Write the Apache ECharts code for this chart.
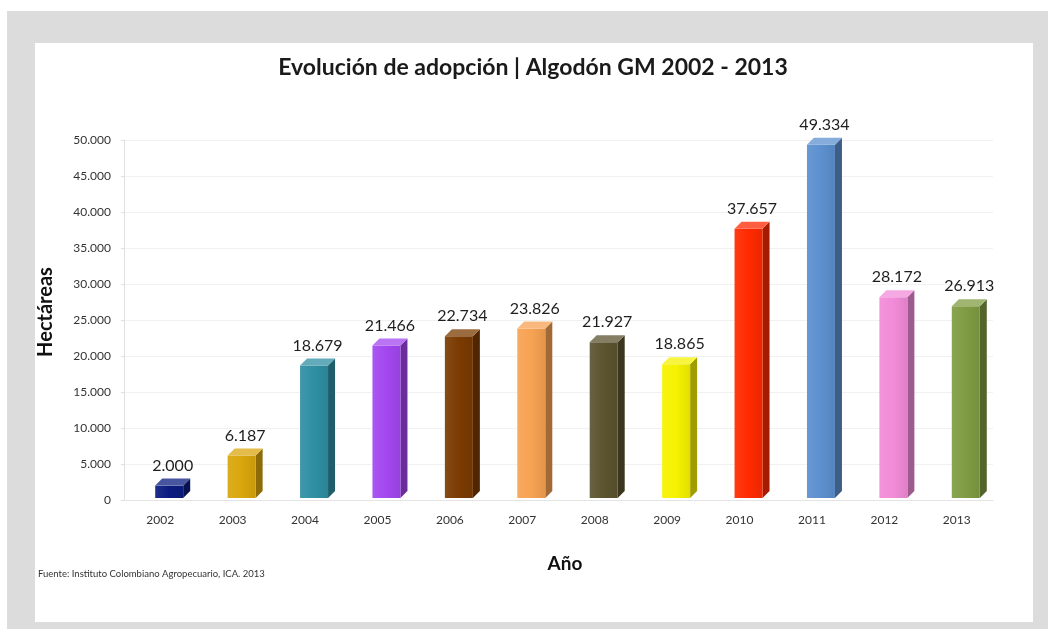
<!DOCTYPE html>
<html>
<head>
<meta charset="utf-8">
<script src="https://cdn.jsdelivr.net/npm/echarts@6/dist/echarts.min.js"></script>
<style>
  html, body { margin: 0; padding: 0; background: #ffffff; }
  #chart { width: 1048px; height: 629px; }
</style>
</head>
<body>
<div id="chart"></div>
<script>
// Cotton GM adoption in Colombia, hectares per year
const years = ['2002', '2003', '2004', '2005', '2006', '2007', '2008', '2009', '2010', '2011', '2012', '2013'];
const hectares = [2000, 6187, 18679, 21466, 22734, 23826, 21927, 18865, 37657, 49334, 28172, 26913];
const barColors = ['#0b1c80', '#d9a60c', '#2f8fa3', '#a347f0', '#7b3b02', '#f7a253',
                   '#5c5330', '#f6f200', '#ff2a00', '#5c90cf', '#f28bd8', '#7f9c42'];
const yTicks = [0, 5000, 10000, 15000, 20000, 25000, 30000, 35000, 40000, 45000, 50000];

const FONT = 'Lato, "Open Sans", sans-serif';

// thousands separated with a dot
function fmt(v) {
  return String(Math.round(v)).replace(/\B(?=(\d{3})+(?!\d))/g, '.');
}

function shade(hex, f) {
  const n = parseInt(hex.slice(1), 16);
  let r = (n >> 16) & 255, g = (n >> 8) & 255, b = n & 255;
  if (f < 0) { r *= 1 + f; g *= 1 + f; b *= 1 + f; }
  else { r += (255 - r) * f; g += (255 - g) * f; b += (255 - b) * f; }
  return 'rgb(' + Math.round(r) + ',' + Math.round(g) + ',' + Math.round(b) + ')';
}

// 3D box bar: front face, right side and top
function renderBox(params, api) {
  const i = api.value(0);
  const top = api.coord([i, api.value(1)]);
  const base = api.coord([i, 0]);
  const w = 28, d = 7, dy = 7;
  const x0 = top[0] - 5, x1 = x0 + w;
  const yt = top[1], yb = base[1] - 2;
  const col = barColors[i];
  return {
    type: 'group',
    children: [
      { type: 'polygon', shape: { points: [[x1, yt], [x1 + d, yt - dy], [x1 + d, yb - dy], [x1, yb]] },
        style: { fill: shade(col, -0.35) } },
      { type: 'rect', shape: { x: x0, y: yt, width: w, height: yb - yt },
        style: { fill: {
          type: 'linear', x: 0, y: 0, x2: 1, y2: 0,
          colorStops: [{ offset: 0, color: shade(col, 0.08) }, { offset: 0.5, color: col }, { offset: 1, color: shade(col, -0.08) }]
        } } },
      { type: 'polygon', shape: { points: [[x0, yt], [x0 + d, yt - dy], [x1 + d, yt - dy], [x1, yt]] },
        style: { fill: shade(col, 0.25) } },
      { type: 'text', x: x0 + (w + d) / 2, y: yt - 20,
        style: { text: fmt(api.value(1)), fill: '#1e1e1e', font: '16px ' + FONT, align: 'center', verticalAlign: 'middle' } }
    ]
  };
}

const chart = echarts.init(document.getElementById('chart'), null, { renderer: 'canvas' });

chart.setOption({
  animation: false,
  backgroundColor: '#ffffff',
  graphic: [
    { type: 'rect', z: -10, silent: true, shape: { x: 7, y: 11, width: 1041, height: 618 }, style: { fill: '#dcdcdc' } },
    { type: 'rect', z: -9, silent: true, shape: { x: 35, y: 43, width: 998, height: 579 }, style: { fill: '#ffffff' } },
    { type: 'text', x: 533, y: 68, z: 5,
      style: { text: 'Evolución de adopción | Algodón GM 2002 - 2013', fill: '#1a1a1a', font: 'bold 23px ' + FONT, align: 'center', verticalAlign: 'middle' } },
    { type: 'text', x: 46, y: 312, rotation: Math.PI / 2, z: 5,
      style: { text: 'Hectáreas', fill: '#111', font: 'bold 20px ' + FONT, align: 'center', verticalAlign: 'middle' } },
    { type: 'text', x: 565, y: 564, z: 5,
      style: { text: 'Año', fill: '#111', font: 'bold 19px ' + FONT, align: 'center', verticalAlign: 'middle' } },
    { type: 'text', x: 38, y: 574, z: 5,
      style: { text: 'Fuente: Instituto Colombiano Agropecuario, ICA. 2013', fill: '#333', font: '9.5px ' + FONT, verticalAlign: 'middle' } }
  ],
  grid: { left: 124, right: 55, top: 140, bottom: 129, containLabel: false },
  xAxis: {
    type: 'category',
    data: years,
    axisLine: { show: true, lineStyle: { color: '#e4e4e4', width: 1 } },
    axisTick: { show: false },
    axisLabel: { color: '#333', fontSize: 12, fontFamily: FONT, margin: 14 },
    splitLine: { show: false }
  },
  yAxis: {
    type: 'value',
    min: yTicks[0],
    max: yTicks[yTicks.length - 1],
    interval: yTicks[1] - yTicks[0],
    axisLine: { show: true, lineStyle: { color: '#e0e0e0', width: 1 } },
    axisTick: { show: true, length: 3, lineStyle: { color: '#e0e0e0' } },
    axisLabel: { color: '#333', fontSize: 12, fontFamily: FONT, margin: 13, formatter: v => fmt(v) },
    splitLine: { show: true, lineStyle: { color: '#f1f1f1', width: 1 } }
  },
  series: [{
    type: 'custom',
    renderItem: renderBox,
    data: hectares.map((v, i) => [i, v]),
    encode: { x: 0, y: 1 },
    clip: false
  }]
});
</script>
</body>
</html>
